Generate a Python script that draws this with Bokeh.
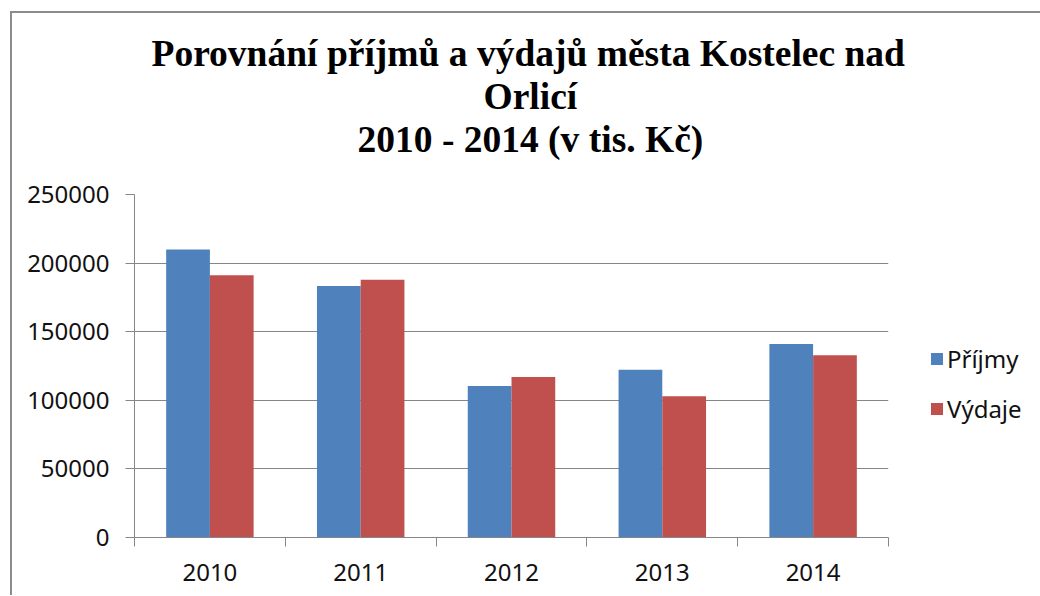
from bokeh.plotting import figure
from bokeh.models import (ColumnDataSource, Range1d, FixedTicker, LinearAxis,
                          NumeralTickFormatter, Legend, LegendItem, Title, Grid)
from bokeh.transform import dodge
from bokeh.embed import file_html
from bokeh.resources import INLINE

# ---- data ----
years = ["2010", "2011", "2012", "2013", "2014"]
prijmy = [210000, 183300, 110400, 122300, 141100]
vydaje = [191200, 187900, 117000, 102900, 132800]
series_names = ["Příjmy", "Výdaje"]
y_ticks = [0, 50000, 100000, 150000, 200000, 250000]
title_lines = ["Porovnání příjmů a výdajů města Kostelec nad",
               "Orlicí",
               "2010 - 2014 (v tis. Kč)"]

BLUE = "#4F81BD"
RED = "#C0504D"
GRID = "#868686"
TICK_FONT = "Noto Sans"

centers = [i + 0.5 for i in range(len(years))]
src = ColumnDataSource(dict(x=centers, year=years, prijmy=prijmy, vydaje=vydaje))

p = figure(output_backend="svg", toolbar_location=None,
           frame_width=754, frame_height=343,
           min_border_left=122, min_border_top=181,
           min_border_right=152, min_border_bottom=58,
           x_range=Range1d(0, len(years)), y_range=Range1d(0, 250000),
           x_axis_type=None, y_axis_type=None)
p.outline_line_color = None
p.background_fill_color = "white"
p.border_fill_color = "white"
p.styles = {"border-left": "2px solid #8c8c8c", "border-top": "2px solid #8c8c8c",
            "margin-left": "10px", "margin-top": "11px"}

bw = 0.29
r1 = p.vbar(x=dodge("x", -bw / 2, range=p.x_range), top="prijmy", width=bw,
            source=src, fill_color=BLUE, line_color=None)
r2 = p.vbar(x=dodge("x", bw / 2, range=p.x_range), top="vydaje", width=bw,
            source=src, fill_color=RED, line_color=None)

# y axis
yax = LinearAxis(ticker=FixedTicker(ticks=y_ticks),
                 formatter=NumeralTickFormatter(format="0"))
yax.axis_line_color = GRID
yax.major_tick_line_color = GRID
yax.major_tick_out = 9
yax.major_tick_in = 0
yax.minor_tick_out = 0
yax.minor_tick_in = 0
yax.major_label_standoff = 16
yax.major_label_text_font = TICK_FONT
yax.major_label_text_font_size = "24px"
yax.major_label_text_color = "#111111"
p.add_layout(yax, "left")

# x axis: labels at centers, tick marks at category boundaries
xax = LinearAxis(ticker=FixedTicker(ticks=centers,
                                    minor_ticks=list(range(len(years) + 1))))
xax.major_label_overrides = {c: y for c, y in zip(centers, years)}
xax.axis_line_color = GRID
xax.major_tick_out = 0
xax.major_tick_in = 0
xax.minor_tick_line_color = GRID
xax.minor_tick_out = 9
xax.minor_tick_in = 0
xax.major_label_standoff = 17
xax.major_label_text_font = TICK_FONT
xax.major_label_text_font_size = "24px"
xax.major_label_text_color = "#111111"
p.add_layout(xax, "below")

p.add_layout(Grid(dimension=1, ticker=yax.ticker, grid_line_color=GRID, grid_line_width=1))

legend = Legend(items=[LegendItem(label=series_names[0], renderers=[r1]),
                       LegendItem(label=series_names[1], renderers=[r2])],
                location=(41, 112), margin=0, padding=10,
                glyph_width=15, glyph_height=15, label_standoff=3,
                spacing=17, border_line_color=None, background_fill_alpha=0,
                label_text_font=TICK_FONT, label_text_font_size="24px",
                label_text_color="#111111")
p.add_layout(legend, "right")

# spacer between the plot area and the title block
p.add_layout(Title(text=" ", text_font="Liberation Serif", text_font_size="30px",
                   standoff=0), "above")
# title lines, left-anchored so that the block is centred on the whole chart
title_offsets = [17, 349, 223]
for line, off in reversed(list(zip(title_lines, title_offsets))):
    p.add_layout(Title(text=line, align="left", offset=off,
                       text_font="Liberation Serif",
                       text_font_style="bold", text_font_size="37.5px",
                       text_color="black", standoff=0), "above")

open("out.html", "w").write(file_html(p, INLINE))
